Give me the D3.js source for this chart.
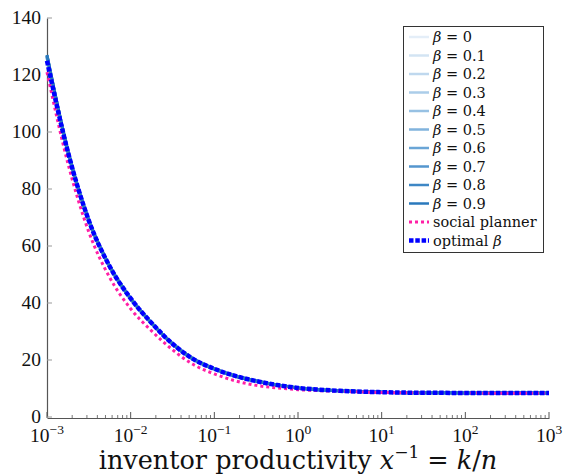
<!DOCTYPE html>
<html>
<head>
<meta charset="utf-8">
<script src="https://cdn.jsdelivr.net/npm/d3@7"></script>
<style>
  html, body { margin: 0; padding: 0; background: #fff; }
  svg { display: block; }
  text { font-family: "Liberation Serif", "DejaVu Serif", serif; fill: #111; }
  .wide { font-family: "DejaVu Serif", "Liberation Serif", serif; }
</style>
</head>
<body>
<svg id="chart" width="565" height="475"></svg>
<script>
// x values are inventor productivity x^-1 = k/n, given as powers of ten
const xExponents = [-3, -2.75, -2.5, -2.25, -2, -1.75, -1.5, -1.25, -1, -0.75, -0.5, -0.25, 0, 0.25, 0.5, 1, 1.5, 2, 2.5, 3];

const betaLabels = ["0", "0.1", "0.2", "0.3", "0.4", "0.5", "0.6", "0.7", "0.8", "0.9"];
const betaSeries = [
  [125.8, 92.6, 68.5, 52.5, 41.3, 32.8, 25.6, 20.2, 16.8, 14.35, 12.6, 11.2, 10.2, 9.6, 9.2, 8.7, 8.5, 8.45, 8.4, 8.4],
  [125.9, 92.7, 68.6, 52.5, 41.3, 32.8, 25.6, 20.2, 16.8, 14.35, 12.6, 11.2, 10.2, 9.6, 9.2, 8.7, 8.5, 8.45, 8.4, 8.4],
  [126.1, 92.8, 68.6, 52.6, 41.4, 32.8, 25.6, 20.2, 16.8, 14.35, 12.6, 11.2, 10.2, 9.6, 9.2, 8.7, 8.5, 8.45, 8.4, 8.4],
  [126.2, 92.9, 68.7, 52.6, 41.4, 32.9, 25.6, 20.2, 16.8, 14.4, 12.6, 11.2, 10.2, 9.6, 9.2, 8.7, 8.5, 8.45, 8.4, 8.4],
  [126.3, 93.0, 68.8, 52.7, 41.4, 32.9, 25.6, 20.2, 16.8, 14.4, 12.6, 11.2, 10.2, 9.6, 9.2, 8.7, 8.5, 8.45, 8.4, 8.4],
  [126.5, 93.1, 68.8, 52.7, 41.5, 32.9, 25.7, 20.3, 16.9, 14.4, 12.6, 11.2, 10.2, 9.6, 9.2, 8.7, 8.5, 8.45, 8.4, 8.4],
  [126.6, 93.2, 68.9, 52.8, 41.5, 32.9, 25.7, 20.3, 16.9, 14.4, 12.6, 11.2, 10.2, 9.6, 9.2, 8.7, 8.5, 8.45, 8.4, 8.4],
  [126.7, 93.3, 69.0, 52.8, 41.5, 33.0, 25.7, 20.3, 16.9, 14.4, 12.6, 11.2, 10.2, 9.6, 9.2, 8.7, 8.5, 8.45, 8.4, 8.4],
  [126.9, 93.4, 69.0, 52.9, 41.6, 33.0, 25.7, 20.3, 16.9, 14.4, 12.6, 11.2, 10.2, 9.6, 9.2, 8.7, 8.5, 8.45, 8.4, 8.4],
  [127.0, 93.5, 69.1, 52.9, 41.6, 33.0, 25.7, 20.3, 16.9, 14.4, 12.6, 11.2, 10.2, 9.6, 9.2, 8.7, 8.5, 8.45, 8.4, 8.4]
];
const plannerValues = [121.0, 89.0, 64.9, 48.9, 38.0, 30.2, 23.6, 18.4, 15.1, 12.7, 11.1, 10.2, 9.6, 9.25, 9.0, 8.6, 8.45, 8.4, 8.35, 8.35];
const optimalValues = [125.0, 93.0, 68.9, 52.8, 41.6, 33.0, 25.7, 20.3, 16.9, 14.4, 12.6, 11.2, 10.2, 9.6, 9.2, 8.7, 8.5, 8.45, 8.4, 8.4];

const yTicks = [0, 20, 40, 60, 80, 100, 120, 140];
const xTickExponents = [-3, -2, -1, 0, 1, 2, 3];

const betaColors = ["#e4eef8", "#d3e4f3", "#bfd8ee", "#abcde9", "#97c1e3", "#81b3dd", "#6aa5d6", "#5496ce", "#3e87c5", "#2a79bc"];
const plannerColor = "#ff1fa6";
const optimalColor = "#0000ff";
const axisColor = "#555";

const svg = d3.select("#chart");
const plotLeft = 47, plotRight = 549, plotTop = 18, plotBottom = 417;

const x = d3.scaleLog().domain([1e-3, 1e3]).range([plotLeft, plotRight]);
const y = d3.scaleLinear().domain([0, 140]).range([plotBottom, plotTop]);

const xs = xExponents.map(e => Math.pow(10, e));
const line = d3.line()
  .x(d => x(d[0]))
  .y(d => y(d[1]))
  .curve(d3.curveMonotoneX);
const pts = vals => xs.map((v, i) => [v, vals[i]]);

// axes
const xAxis = d3.axisBottom(x).tickValues([]).tickSize(0).tickFormat("");
const gx = svg.append("g").attr("transform", `translate(0,${plotBottom + 1})`).call(xAxis);
gx.select(".domain").attr("stroke", axisColor).attr("stroke-width", 1.2);

// tick marks pointing into the plot
const minor = d3.range(-3, 3).flatMap(e => d3.range(2, 10).map(m => m * Math.pow(10, e)));
svg.append("g").selectAll("line").data(minor).join("line")
  .attr("x1", d => x(d)).attr("x2", d => x(d))
  .attr("y1", plotBottom + 1).attr("y2", plotBottom - 2)
  .attr("stroke", axisColor).attr("stroke-width", 0.8);
svg.append("g").selectAll("line").data(xTickExponents).join("line")
  .attr("x1", d => x(Math.pow(10, d))).attr("x2", d => x(Math.pow(10, d)))
  .attr("y1", plotBottom + 1).attr("y2", plotBottom - 5)
  .attr("stroke", axisColor).attr("stroke-width", 1);

const yAxis = d3.axisLeft(y).tickValues([]).tickSize(0).tickFormat("");
const gy = svg.append("g").attr("transform", `translate(${plotLeft},0)`).call(yAxis);
gy.select(".domain").attr("stroke", axisColor).attr("stroke-width", 1.2);
svg.append("g").selectAll("line").data(yTicks).join("line")
  .attr("x1", plotLeft).attr("x2", plotLeft + 5)
  .attr("y1", d => y(d)).attr("y2", d => y(d))
  .attr("stroke", "#999").attr("stroke-width", 1);

// y tick labels
svg.append("g").selectAll("text").data(yTicks).join("text")
  .attr("x", plotLeft - 6).attr("y", d => y(d) - 1).attr("dy", "0.35em")
  .attr("text-anchor", "end").attr("font-size", 19.5)
  .text(d => d);

// x tick labels: 10 with a superscript exponent
const xl = svg.append("g").selectAll("text").data(xTickExponents).join("text")
  .attr("x", d => x(Math.pow(10, d)))
  .attr("y", 442).attr("text-anchor", "middle").attr("font-size", 19.5);
xl.append("tspan").text("10");
xl.append("tspan").attr("font-size", 13.5).attr("dy", -8)
  .text(d => (d < 0 ? "\u2212" + (-d) : String(d)));

// x axis title
const title = svg.append("text").attr("class", "wide").attr("x", 298).attr("y", 469)
  .attr("text-anchor", "middle").attr("font-size", 25.5);
title.append("tspan").text("inventor productivity ");
title.append("tspan").attr("font-style", "italic").text("x");
title.append("tspan").attr("font-size", 17).attr("dy", -11).text("\u22121");
title.append("tspan").attr("dy", 11).text(" = ");
title.append("tspan").attr("font-style", "italic").text("k");
title.append("tspan").text("/");
title.append("tspan").attr("font-style", "italic").text("n");

// curves
const plot = svg.append("g");
betaSeries.forEach((vals, i) => {
  plot.append("path").datum(pts(vals))
    .attr("fill", "none").attr("stroke", betaColors[i]).attr("stroke-width", 3)
    .attr("d", line);
});
plot.append("path").datum(pts(plannerValues))
  .attr("fill", "none").attr("stroke", plannerColor).attr("stroke-width", 3)
  .attr("stroke-dasharray", "3,3").attr("d", line);
plot.append("path").datum(pts(optimalValues))
  .attr("fill", "none").attr("stroke", optimalColor).attr("stroke-width", 4.5)
  .attr("stroke-dasharray", "4.5,1.8").attr("d", line);

// legend
const legX = 403, legY = 26, legW = 140, legH = 226, rowH = 18.5, firstRow = 37;
const leg = svg.append("g");
leg.append("rect").attr("x", legX + 0.5).attr("y", legY + 0.5)
  .attr("width", legW).attr("height", legH)
  .attr("fill", "#fff").attr("stroke", "#333").attr("stroke-width", 1);

const entries = betaLabels.map((b, i) => ({ kind: "beta", label: b, color: betaColors[i], w: 2.5, dash: null }))
  .concat([
    { kind: "text", label: "social planner", color: plannerColor, w: 3, dash: "3,3" },
    { kind: "opt", label: "optimal ", color: optimalColor, w: 4.5, dash: "4.5,1.8" }
  ]);

entries.forEach((e, i) => {
  const yy = firstRow + i * rowH;
  leg.append("line").attr("x1", 409).attr("x2", 429).attr("y1", yy).attr("y2", yy)
    .attr("stroke", e.color).attr("stroke-width", e.w)
    .attr("stroke-dasharray", e.dash);
  const t = leg.append("text").attr("class", "wide").attr("x", 433).attr("y", yy)
    .attr("dy", "0.35em").attr("font-size", 14.5);
  if (e.kind === "beta") {
    t.append("tspan").attr("font-style", "italic").text("\u03b2");
    t.append("tspan").text(" = " + e.label);
  } else if (e.kind === "opt") {
    t.append("tspan").text(e.label);
    t.append("tspan").attr("font-style", "italic").text("\u03b2");
  } else {
    t.text(e.label);
  }
});
</script>
</body>
</html>
